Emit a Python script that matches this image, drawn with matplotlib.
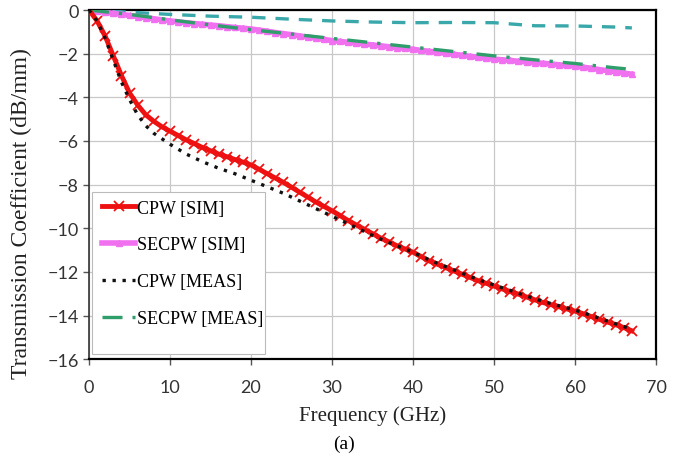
import numpy as np
import matplotlib.pyplot as plt
from matplotlib.patches import Rectangle

# frequency grid (GHz) for the simulated curves
freq_sim = np.arange(0, 68)

cpw_sim = [0, -0.5, -1.2, -2.1, -3.0, -3.8, -4.35, -4.8, -5.1, -5.35,
           -5.55, -5.75, -5.95, -6.12, -6.3, -6.45, -6.6, -6.72, -6.85, -6.97,
           -7.1, -7.3, -7.5, -7.7, -7.9, -8.12, -8.35, -8.57, -8.8, -9.0,
           -9.2, -9.42, -9.65, -9.85, -10.05, -10.25, -10.45, -10.62, -10.8, -10.95,
           -11.1, -11.3, -11.5, -11.65, -11.8, -11.95, -12.1, -12.25, -12.4, -12.52,
           -12.65, -12.78, -12.9, -13.02, -13.15, -13.28, -13.4, -13.5, -13.6, -13.7,
           -13.8, -13.92, -14.05, -14.18, -14.3, -14.42, -14.55, -14.7]

secpw_sim = [0, -0.05, -0.1, -0.15, -0.2, -0.25, -0.3, -0.35, -0.4, -0.45,
             -0.5, -0.54, -0.58, -0.62, -0.65, -0.69, -0.72, -0.76, -0.8, -0.83,
             -0.87, -0.92, -0.97, -1.03, -1.08, -1.13, -1.19, -1.24, -1.29, -1.35,
             -1.4, -1.44, -1.48, -1.52, -1.56, -1.6, -1.64, -1.68, -1.72, -1.76,
             -1.8, -1.85, -1.89, -1.94, -1.98, -2.03, -2.07, -2.12, -2.16, -2.21,
             -2.25, -2.28, -2.31, -2.35, -2.38, -2.41, -2.44, -2.47, -2.51, -2.54,
             -2.57, -2.62, -2.67, -2.73, -2.78, -2.84, -2.89, -2.94]

# measured curves
freq_cpw_meas = [0, 1, 2, 3, 4, 5, 6, 7, 8, 9, 10, 12, 14, 16, 18, 20, 22, 24, 26, 28,
                 30, 32, 34, 36, 38, 40, 42, 44, 46, 48, 50, 52, 54, 56, 58, 60, 62, 64, 66, 67]
cpw_meas = [0, -0.5, -1.3, -2.3, -3.3, -4.1, -4.8, -5.3, -5.65, -5.9, -6.15, -6.6, -6.95,
            -7.25, -7.5, -7.8, -8.1, -8.4, -8.75, -9.1, -9.45, -9.8, -10.15, -10.5, -10.8,
            -11.1, -11.45, -11.75, -12.05, -12.35, -12.6, -12.85, -13.1, -13.35, -13.55,
            -13.75, -14.0, -14.25, -14.5, -14.65]

freq_meas = [0, 5, 10, 15, 20, 25, 30, 35, 40, 45, 50, 55, 60, 65, 67]
secpw_meas = [0, -0.2, -0.45, -0.68, -0.9, -1.1, -1.3, -1.5, -1.7, -1.9, -2.1,
              -2.28, -2.45, -2.65, -2.72]
# teal dashed trace near the top (not in the legend)
extra_meas = [0, -0.1, -0.2, -0.28, -0.33, -0.42, -0.5, -0.55, -0.58, -0.57, -0.58,
              -0.72, -0.73, -0.78, -0.82]

xticks = np.arange(0, 71, 10)
yticks = np.arange(-16, 1, 2)

serif = 'Liberation Serif'
sans = 'Lato'

fig = plt.figure(figsize=(6.9, 4.6), dpi=100)
ax = fig.add_axes([0.129, 0.217, 0.822, 0.759])

ax.plot(freq_meas, extra_meas, color='#3aa8aa', lw=2.4, ls=(0, (4, 3)), zorder=3)
ax.plot(freq_sim, secpw_sim, color='#f070f0', lw=4, marker='^', ms=5,
        mec='#f070f0', label='SECPW [SIM]', zorder=4)
ax.plot(freq_meas, secpw_meas, color='#2e9e6a', lw=2.4, ls=(0, (6, 3, 1, 3)),
        label='SECPW [MEAS]', zorder=5)
ax.plot(freq_sim, cpw_sim, color='#ee1111', lw=3.5, marker='x', ms=7, mew=1.3,
        label='CPW [SIM]', zorder=6)
ax.plot(freq_cpw_meas, cpw_meas, color='#111111', lw=2.4, ls=(0, (1, 2)),
        label='CPW [MEAS]', zorder=7)

ax.set_xlim(0, 70)
ax.set_ylim(-16, 0)
ax.set_xticks(xticks)
ax.set_yticks(yticks)
ax.grid(True, color='#c8c8c8', lw=0.9)
ax.set_axisbelow(True)

for side in ['top', 'right', 'bottom']:
    ax.spines[side].set_linewidth(1.6)
    ax.spines[side].set_color('black')
ax.spines['left'].set_linewidth(1.2)
ax.spines['left'].set_color('#333333')

ax.tick_params(length=4, width=1, color='#555555', labelsize=13, labelcolor='#333333')
ax.tick_params(axis='x', pad=10)
for lab in ax.get_xticklabels() + ax.get_yticklabels():
    lab.set_fontfamily(sans)

ax.set_xlabel('Frequency (GHz)', fontsize=15, family=serif, color='#222222', labelpad=8)
ax.set_ylabel('Transmission Coefficient (dB/mm)', fontsize=17, family=serif,
              color='#222222')
ax.yaxis.set_label_coords(-0.1, 0.42)
fig.text(0.499, 0.033, '(a)', fontsize=14, family=serif, ha='center', va='center')

# legend box is taller than its entries in the original, so draw the frame separately
ax.add_patch(Rectangle((0.005, 0.014), 0.305, 0.464, transform=ax.transAxes,
                       facecolor='white', edgecolor='#bbbbbb', lw=0.8, zorder=9))

handles, labels = ax.get_legend_handles_labels()
order = [labels.index(n) for n in ['CPW [SIM]', 'SECPW [SIM]', 'CPW [MEAS]', 'SECPW [MEAS]']]
leg = ax.legend([handles[i] for i in order], [labels[i] for i in order],
                loc='upper left', bbox_to_anchor=(0.011, 0.478), borderaxespad=0,
                prop={'family': serif, 'size': 13}, labelspacing=1.1,
                handlelength=1.8, handletextpad=0.1, frameon=False, borderpad=0.4)
leg.set_zorder(10)

fig.savefig('out.png', dpi=100)
